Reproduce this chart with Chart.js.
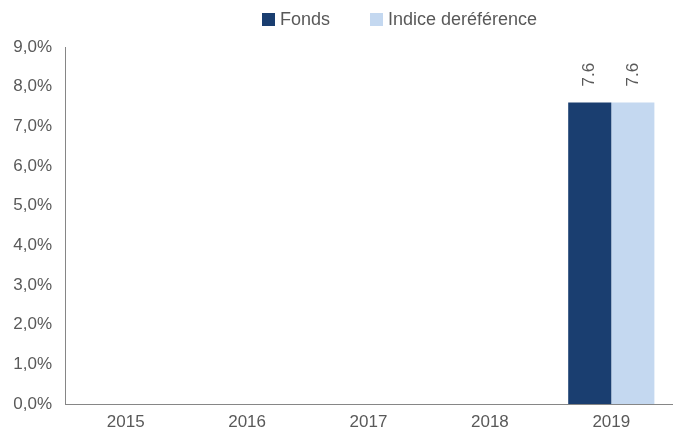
<!DOCTYPE html>
<html>
<head>
<meta charset="utf-8">
<script src="https://cdn.jsdelivr.net/npm/chart.js@4/dist/chart.umd.min.js"></script>
<style>
  html, body { margin: 0; padding: 0; background: #fff; }
  #wrap { width: 673px; height: 433px; }
</style>
</head>
<body>
<div id="wrap"><canvas id="c"></canvas></div>
<script>
const years = ["2015", "2016", "2017", "2018", "2019"];
const fonds = [null, null, null, null, 7.6];
const indice = [null, null, null, null, 7.6];
const seriesNames = ["Fonds", "Indice deréférence"];
const seriesColors = ["#1a3e70", "#c4d8f0"];

const FONT = "'Liberation Sans', Arial, sans-serif";
const GREY = "#595959";

// vertical value labels above the bars
const barLabels = {
  id: "barLabels",
  afterDatasetsDraw(chart) {
    const ctx = chart.ctx;
    ctx.save();
    ctx.font = "17px " + FONT;
    ctx.fillStyle = GREY;
    ctx.textAlign = "left";
    ctx.textBaseline = "middle";
    chart.data.datasets.forEach((ds, i) => {
      chart.getDatasetMeta(i).data.forEach((bar, j) => {
        if (ds.data[j] == null) return;
        ctx.save();
        ctx.translate(bar.x, bar.y - 16);
        ctx.rotate(-Math.PI / 2);
        ctx.fillText(String(ds.data[j]), 0, 0);
        ctx.restore();
      });
    });
    ctx.restore();
  }
};

// legend at the top, drawn by hand so it can sit where the original has it
const topLegend = {
  id: "topLegend",
  afterDraw(chart) {
    const ctx = chart.ctx;
    const xs = [262, 370];
    ctx.save();
    ctx.font = "18px " + FONT;
    ctx.textBaseline = "middle";
    seriesNames.forEach((name, i) => {
      ctx.fillStyle = seriesColors[i];
      ctx.fillRect(xs[i], 13, 13, 13);
      ctx.fillStyle = GREY;
      ctx.fillText(name, xs[i] + 18, 20);
    });
    ctx.restore();
  }
};

new Chart(document.getElementById("c"), {
  type: "bar",
  data: {
    labels: years,
    datasets: [
      { label: seriesNames[0], data: fonds, backgroundColor: seriesColors[0] },
      { label: seriesNames[1], data: indice, backgroundColor: seriesColors[1] },
    ],
  },
  options: {
    responsive: true,
    maintainAspectRatio: false,
    animation: false,
    layout: { padding: { top: 47, right: 1, left: 0, bottom: 0 } },
    datasets: { bar: { categoryPercentage: 0.71, barPercentage: 1 } },
    plugins: {
      legend: { display: false },
      tooltip: { enabled: false },
    },
    scales: {
      x: {
        grid: { display: false, drawTicks: false },
        border: { color: "#868686", width: 1 },
        ticks: { color: GREY, font: { family: FONT, size: 17 }, padding: 8 },
        afterFit: (s) => { s.height = 29; },
      },
      y: {
        min: 0,
        max: 9,
        grid: { display: false, drawTicks: false },
        border: { color: "#868686", width: 1 },
        ticks: {
          stepSize: 1,
          color: GREY,
          font: { family: FONT, size: 17 },
          padding: 13,
          callback: (v) => v.toFixed(1).replace(".", ",") + "%",
        },
        afterFit: (s) => { s.width = 65; },
      },
    },
  },
  plugins: [barLabels, topLegend],
});
</script>
</body>
</html>
